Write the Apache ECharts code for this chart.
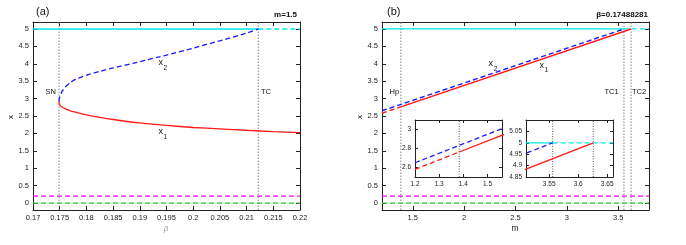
<!DOCTYPE html>
<html><head><meta charset="utf-8">
<script src="https://cdn.jsdelivr.net/npm/echarts@6/dist/echarts.min.js"></script>
<style>html,body{margin:0;padding:0;background:#fff}#c{width:686px;height:245px}</style>
</head><body><div id="c"></div>
<script>
// ---------- Panel (a): m = 1.5 ----------
const betaTicks = [0.17,0.175,0.18,0.185,0.19,0.195,0.2,0.205,0.21,0.215,0.22];
const xTicks = [0,0.5,1,1.5,2,2.5,3,3.5,4,4.5,5];
const betaX2 = [0.17488,0.1749,0.1750,0.1752,0.1755,0.176,0.177,0.178,0.18,0.1825,0.185,0.19,0.195,0.2,0.205,0.21,0.2122];
const valX2a = [2.92,2.98,3.04,3.12,3.22,3.33,3.46,3.56,3.67,3.78,3.88,4.06,4.25,4.45,4.66,4.88,5.0];
const betaX1 = [0.17488,0.1749,0.1750,0.1752,0.1755,0.176,0.177,0.178,0.18,0.1825,0.185,0.19,0.195,0.2,0.205,0.21,0.215,0.22];
const valX1a = [2.92,2.86,2.82,2.78,2.75,2.71,2.65,2.61,2.53,2.46,2.40,2.30,2.23,2.17,2.13,2.09,2.05,2.02];
const betaSN = 0.17488, betaTC = 0.2122;
const cyanA = 5.0, magentaLevel = 0.2, greenLevel = 0.0;

// ---------- Panel (b): beta = 0.17488281 ----------
const mTicks = [1.5,2,2.5,3,3.5];
const mX2 = [1.2,3.556];        const valX2b = [2.65,5.0];
const mX1dash = [1.2,1.383];    const valX1dash = [2.58,2.763];
const mX1 = [1.383,3.626];      const valX1b = [2.763,5.0];
const mHp = 1.383, mTC1 = 3.556, mTC2 = 3.626;
// insets
const in1XTicks = [1.2,1.3,1.4,1.5], in1YTicks = [2.6,2.8,3];
const in2XTicks = [3.55,3.6,3.65], in2YTicks = [4.85,4.9,4.95,5,5.05];

const chart = echarts.init(document.getElementById('c'), null, {renderer:'canvas'});
const FONT = 'Liberation Sans, Arial, sans-serif';

function ax(gi, min, max, ticks, pos, show, fs, tl){
  return {type:'value', gridIndex:gi, min:min, max:max, position:pos,
    axisLine:{show:true, onZero:false, lineStyle:{color:'#222', width:1}},
    axisTick:{show:true, inside:true, length:tl, customValues:ticks, lineStyle:{color:'#222'}},
    axisLabel:{show:show, customValues:ticks, margin:4, fontSize:fs, color:'#222', fontFamily:FONT},
    splitLine:{show:false}};
}
function zip(a,b){return a.map((v,i)=>[v,b[i]]);}
function line(xi, data, color, type, w, z){
  return {type:'line', xAxisIndex:xi, yAxisIndex:xi, data:data, showSymbol:false, symbol:'none',
    lineStyle:{color:color, width:w, type:type}, silent:true, animation:false, z:z||2, clip:true};
}
const xA=[0.17,0.22], xB=[1.2,3.8], yR=[-0.2,5.2];
const dash=[5,3], dot=[1.5,1.5];

const series = [
  // panel a
  line(0, [[xA[0],greenLevel],[xA[1],greenLevel]], '#22cc22', dash, 1.2),
  line(0, [[xA[0],magentaLevel],[xA[1],magentaLevel]], '#ff00ff', dash, 1.2),
  line(0, [[betaSN,yR[0]],[betaSN,yR[1]]], '#999', dot, 1.2, 1),
  line(0, [[betaTC,yR[0]],[betaTC,yR[1]]], '#999', dot, 1.2, 1),
  line(0, [[xA[0],cyanA],[betaTC,cyanA]], '#00e8e8', 'solid', 1.5),
  line(0, [[betaTC,cyanA],[xA[1],cyanA]], '#00e8e8', dash, 1.5),
  Object.assign(line(0, zip(betaX2,valX2a), '#1a1aff', dash, 1.3, 3), {smooth:0.2}),
  Object.assign(line(0, zip(betaX1,valX1a), '#ff1a1a', 'solid', 1.3, 3), {smooth:0.2}),
  // panel b
  line(2, [[xB[0],greenLevel],[xB[1],greenLevel]], '#22cc22', dash, 1.2),
  line(2, [[xB[0],magentaLevel],[xB[1],magentaLevel]], '#ff00ff', dash, 1.2),
  line(2, [[mHp,yR[0]],[mHp,yR[1]]], '#999', dot, 1.2, 1),
  line(2, [[mTC1,yR[0]],[mTC1,yR[1]]], '#999', dot, 1.2, 1),
  line(2, [[mTC2,yR[0]],[mTC2,yR[1]]], '#999', dot, 1.2, 1),
  line(2, [[xB[0],cyanA],[mTC1,cyanA]], '#00e8e8', 'solid', 1.3),
  line(2, [[mTC1,cyanA],[xB[1],cyanA]], '#00e8e8', dash, 1.3),
  line(2, zip(mX2,valX2b), '#1a1aff', dash, 1.4, 3),
  line(2, zip(mX1dash,valX1dash), '#ff1a1a', dash, 1.4, 3),
  line(2, zip(mX1,valX1b), '#ff1a1a', 'solid', 1.4, 3),
  // inset 1
  line(4, [[mHp,2.5],[mHp,3.1]], '#333', [1,1.5], 0.8, 1),
  line(4, zip(mX2,valX2b), '#1a1aff', dash, 1.3, 3),
  line(4, zip(mX1dash,valX1dash), '#ff1a1a', dash, 1.3, 3),
  line(4, zip(mX1,valX1b), '#ff1a1a', 'solid', 1.3, 3),
  // inset 2
  line(6, [[mTC1,4.85],[mTC1,5.1]], '#333', [1,1.5], 0.8, 1),
  line(6, [[mTC2,4.85],[mTC2,5.1]], '#333', [1,1.5], 0.8, 1),
  line(6, [[3.51,cyanA],[mTC1,cyanA]], '#00e8e8', 'solid', 1.3),
  line(6, [[mTC1,cyanA],[3.66,cyanA]], '#00e8e8', dash, 1.3),
  line(6, zip(mX2,valX2b), '#1a1aff', dash, 1.3, 3),
  line(6, zip(mX1,valX1b), '#ff1a1a', 'solid', 1.3, 3)
];

function T(text,x,y,opt){
  opt=opt||{};
  return {type:'text', x:x, y:y, rotation:opt.rot||0, silent:true, z:100,
    style:{text:text, fill:opt.fill||'#111', textAlign:opt.align||'left', textVerticalAlign:'middle',
      font:(opt.style||'')+' '+(opt.weight||'normal')+' '+(opt.size||8)+'px '+FONT}};
}

chart.setOption({
  animation:false,
  backgroundColor:'#fff',
  grid:[
    {left:33, top:22, width:267, height:188},
    {left:382, top:22, width:267, height:188},
    {left:415, top:120, width:87, height:57},
    {left:526, top:120, width:87, height:57}
  ],
  xAxis:[
    ax(0, xA[0], xA[1], betaTicks, 'bottom', true, 7.5, 4),
    ax(0, xA[0], xA[1], betaTicks, 'top', false, 7.5, 4),
    ax(1, xB[0], xB[1], mTicks, 'bottom', true, 7.5, 4),
    ax(1, xB[0], xB[1], mTicks, 'top', false, 7.5, 4),
    ax(2, 1.2, 1.56, in1XTicks, 'bottom', true, 6.5, 3),
    ax(2, 1.2, 1.56, in1XTicks, 'top', false, 6.5, 3),
    ax(3, 3.51, 3.66, in2XTicks, 'bottom', true, 6.5, 3),
    ax(3, 3.51, 3.66, in2XTicks, 'top', false, 6.5, 3)
  ],
  yAxis:[
    ax(0, yR[0], yR[1], xTicks, 'left', true, 7.5, 4),
    ax(0, yR[0], yR[1], xTicks, 'right', false, 7.5, 4),
    ax(1, yR[0], yR[1], xTicks, 'left', true, 7.5, 4),
    ax(1, yR[0], yR[1], xTicks, 'right', false, 7.5, 4),
    ax(2, 2.5, 3.1, in1YTicks, 'left', true, 6.5, 3),
    ax(2, 2.5, 3.1, in1YTicks, 'right', false, 6.5, 3),
    ax(3, 4.85, 5.1, in2YTicks, 'left', true, 6.5, 3),
    ax(3, 4.85, 5.1, in2YTicks, 'right', false, 6.5, 3)
  ],
  series: series,
  graphic:[
    T('(a)', 36, 12, {size:11}),
    T('(b)', 387, 12, {size:11}),
    T('m=1.5', 297, 15, {size:8, weight:'bold', align:'right'}),
    T('β=0.17488281', 648, 15, {size:8, weight:'bold', align:'right'}),
    T('SN', 45.5, 92, {size:7.5}),
    T('TC', 261, 92, {size:7.5}),
    T('Hp', 389.5, 92, {size:7.5}),
    T('TC1', 604.5, 92, {size:7.5}),
    T('TC2', 632, 92, {size:7.5}),
    T('x', 158.5, 63, {size:9}), T('2', 163.5, 68, {size:6.5}),
    T('x', 158.5, 132, {size:9}), T('1', 163.5, 137, {size:6.5}),
    T('x', 488.5, 64, {size:9}), T('2', 493.8, 69, {size:6.5}),
    T('x', 539.5, 65.5, {size:9}), T('1', 544.5, 70.5, {size:6.5}),
    T('x', 11, 117, {size:8, rot:Math.PI/2, align:'center'}),
    T('x', 360, 117, {size:8, rot:Math.PI/2, align:'center'}),
    T('β', 166, 229, {size:8, style:'italic', fill:'#999', align:'center'}),
    T('m', 515, 229, {size:8.5, fill:'#222', align:'center'})
  ]
});
</script></body></html>
